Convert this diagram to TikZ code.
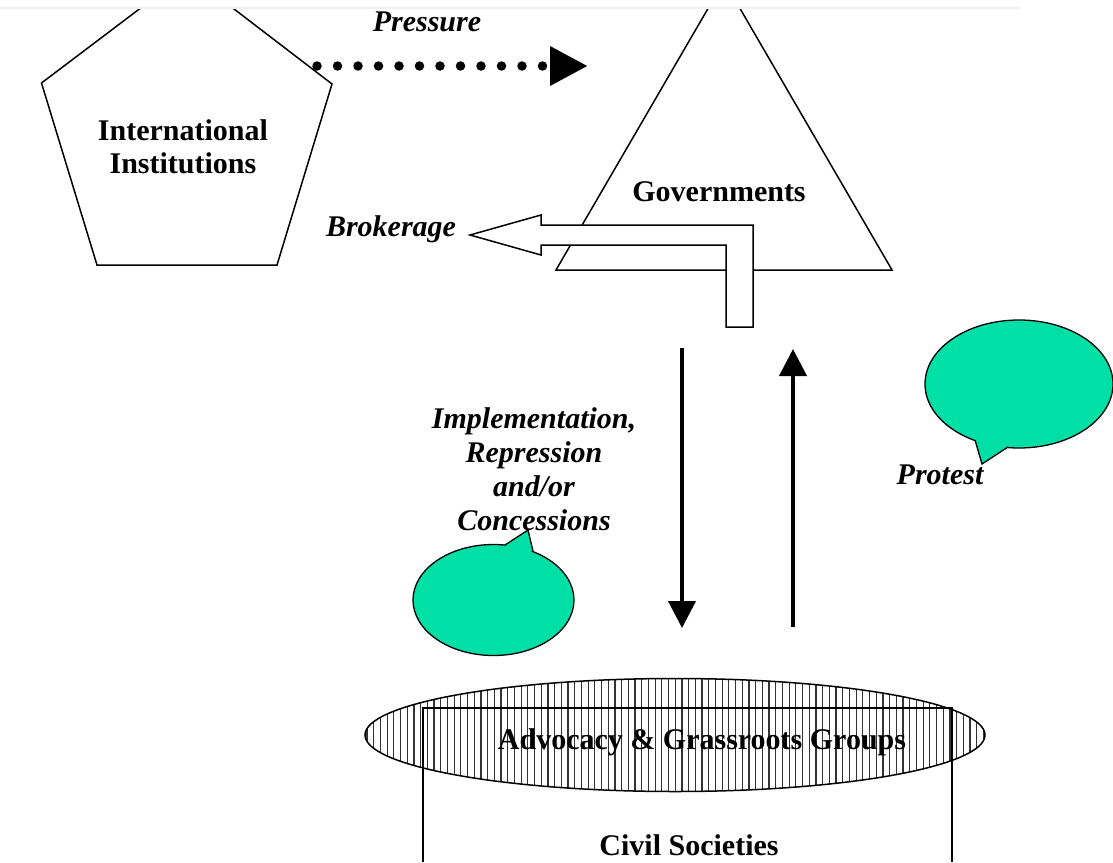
\documentclass[tikz,border=0pt]{standalone}
\usepackage{fontspec}
\setmainfont{Liberation Serif}
\usetikzlibrary{arrows.meta,shapes.geometric}
\definecolor{bubble}{RGB}{0,224,166}
\begin{document}
\begin{tikzpicture}[x=1pt,y=-1pt,
  outline/.style={draw=black,line width=1.5pt,line join=miter},
  lbl/.style={font=\fontsize{30}{34}\selectfont\bfseries\itshape, align=center, inner sep=0},
  ttl/.style={font=\fontsize{30}{33}\selectfont\bfseries, align=center, inner sep=0},
  flow/.style={line width=4pt,-{Triangle[length=27pt,width=27pt]}},
  push/.style={line width=9.5pt, line cap=round, dash pattern=on 0pt off 20.5pt, -{Triangle[length=38pt,width=37pt]}},
  speech/.style={fill=bubble,draw=black,line width=1.3pt},
  hatch/.style={draw=black!80,line width=1.2pt},
]
\useasboundingbox (0,0) rectangle (1113,862);
\draw[gray!12,line width=1.2pt] (0,8) -- (1020,8);

% pentagon and triangle, cut at the top
\coordinate (P1) at (187,-27);
\coordinate (P2) at (332,84);
\coordinate (P3) at (277,265);
\coordinate (P4) at (97,265);
\coordinate (P5) at (41.5,83);
\coordinate (T1) at (724,-19);
\coordinate (T2) at (892,270);
\coordinate (T3) at (556,270);
\begin{scope}
  \clip (0,9) rectangle (1113,862);
  \draw[outline] (P1) -- (P2) -- (P3) -- (P4) -- (P5) -- cycle;
  \draw[outline] (T1) -- (T2) -- (T3) -- cycle;
\end{scope}
\node[ttl] (intl) at (183,147) {International\\Institutions};
\node[ttl] (govt) at (719,192) {Governments};

% pressure
\node[lbl] (pressure) at (427,22) {Pressure};
\coordinate (pS) at (317,66);
\coordinate (pE) at (588,66);
\draw[push] (pS) -- (pE);

% brokerage hollow arrow
\coordinate (B1) at (470,235);
\coordinate (B2) at (541,215);
\coordinate (B3) at (541,225);
\coordinate (B4) at (753,225);
\coordinate (B5) at (753,327);
\coordinate (B6) at (726,327);
\coordinate (B7) at (726,245);
\coordinate (B8) at (541,245);
\coordinate (B9) at (541,255);
\draw[outline,fill=white] (B1) -- (B2) -- (B3) -- (B4) -- (B5) -- (B6) -- (B7) -- (B8) -- (B9) -- cycle;
\node[lbl] (broker) at (391,229) {Brokerage};

% vertical arrows
\coordinate (dT) at (682,348);
\coordinate (dB) at (682,628);
\coordinate (uB) at (793,627);
\coordinate (uT) at (793,349);
\draw[flow] (dT) -- (dB);
\draw[flow] (uB) -- (uT);
\node[lbl] (impl) at (534,469) {Implementation,\\Repression\\and/or\\Concessions};
\node[lbl] (protest) at (940,475) {Protest};

% speech bubbles
\node[speech,ellipse,minimum width=161pt,minimum height=111pt,inner sep=0] (bub1) at (493.5,600) {};
\coordinate (s1a) at (505,545);
\coordinate (s1t) at (528,530);
\coordinate (s1b) at (533,551);
\fill[bubble] (s1a) -- (s1t) -- (s1b) -- (518,556) -- cycle;
\draw[line width=1.3pt,line join=miter] (s1a) -- (s1t) -- (s1b);

\node[speech,ellipse,minimum width=188pt,minimum height=128pt,inner sep=0] (bub2) at (1019,384) {};
\coordinate (s2a) at (975,440);
\coordinate (s2t) at (982,464);
\coordinate (s2b) at (1008,447);
\fill[bubble] (s2a) -- (s2t) -- (s2b) -- (990,436) -- cycle;
\draw[line width=1.3pt,line join=miter] (s2a) -- (s2t) -- (s2b);

% civil societies
\node[ellipse,fill=white,minimum width=620pt,minimum height=113pt,inner sep=0] (advE) at (675,735) {};
\begin{scope}
  \clip (675,735) ellipse [x radius=310pt, y radius=56.5pt];
  \foreach \x in {367,373.7,...,985} \draw[hatch] (\x,675) -- (\x,795);
\end{scope}
\coordinate (c1) at (423,862);
\coordinate (c2) at (423,708);
\coordinate (c3) at (952,708);
\coordinate (c4) at (952,862);
\draw[line width=1.5pt] (c1) -- (c2) -- (c3) -- (c4);
\draw[line width=1.5pt] (675,735) ellipse [x radius=310pt, y radius=56.5pt];
\node[ttl] (adv) at (702,742) {Advocacy \& Grassroots Groups};
\node[ttl] (civil) at (689,845) {Civil Societies};
\end{tikzpicture}
\end{document}
